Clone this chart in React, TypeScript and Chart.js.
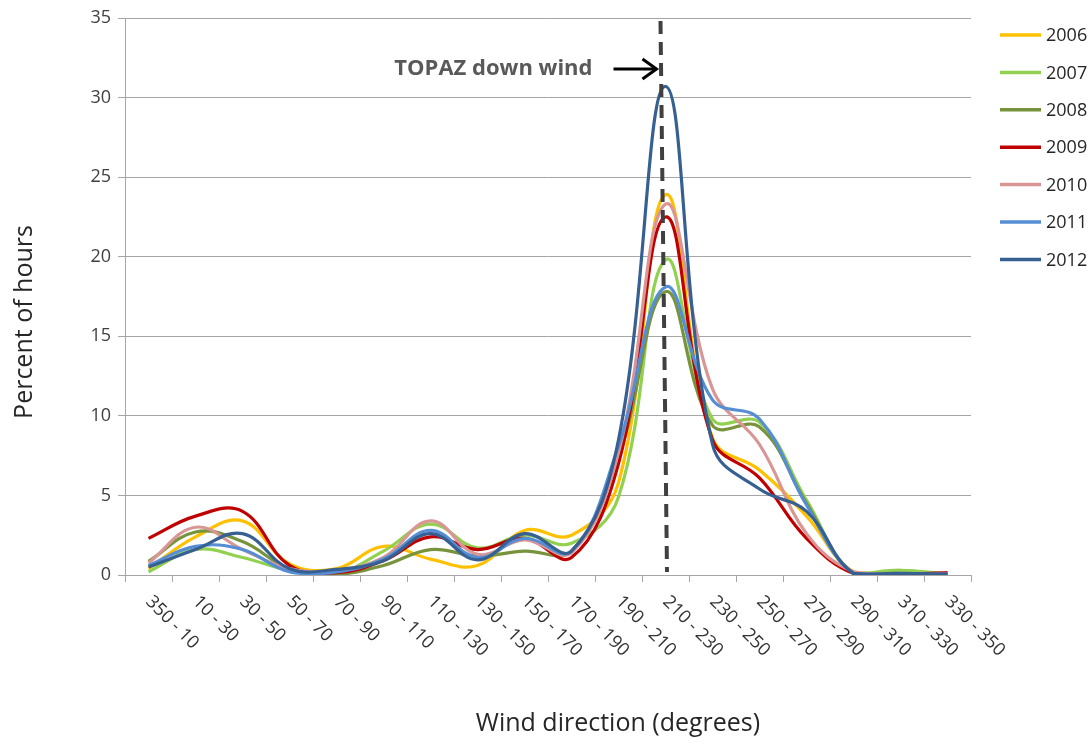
import React, { useEffect, useRef } from 'react';
import { Chart, registerables } from 'chart.js';

Chart.register(...registerables);

const categories = [
  '350 - 10', '10 - 30', '30 - 50', '50 - 70', '70 - 90', '90 - 110', '110 - 130', '130 - 150',
  '150 - 170', '170 - 190', '190 - 210', '210 - 230', '230 - 250', '250 - 270', '270 - 290',
  '290 - 310', '310 - 330', '330 - 350',
];

const years = ['2006', '2007', '2008', '2009', '2010', '2011', '2012'];
const colors = ['#FFC000', '#92D050', '#77933C', '#C00000', '#D99694', '#558ED5', '#376092'];

const s2006 = [0.4, 2.4, 3.4, 0.7, 0.4, 1.8, 1.0, 0.6, 2.8, 2.5, 5.8, 23.9, 8.6, 6.6, 3.7, 0.2, 0.1, 0.05];
const s2007 = [0.2, 1.6, 1.1, 0.3, 0.1, 1.5, 3.2, 1.7, 2.5, 2.0, 4.9, 19.8, 9.8, 9.6, 4.7, 0.1, 0.3, 0.05];
const s2008 = [0.85, 2.7, 2.1, 0.4, 0.05, 0.6, 1.6, 1.2, 1.5, 1.5, 7.4, 17.8, 9.4, 9.3, 4.5, 0.1, 0.1, 0.05];
const s2009 = [2.3, 3.7, 4.0, 0.6, 0.15, 0.9, 2.4, 1.6, 2.3, 1.1, 7.0, 22.5, 8.5, 6.1, 2.3, 0.1, 0.05, 0.15];
const s2010 = [0.75, 3.0, 1.6, 0.4, 0.3, 1.1, 3.4, 1.3, 2.2, 1.4, 7.7, 23.3, 11.7, 8.2, 2.6, 0.2, 0.05, 0.05];
const s2011 = [0.6, 1.8, 1.6, 0.2, 0.2, 1.0, 2.8, 1.1, 2.3, 1.5, 8.1, 18.1, 11.0, 9.8, 4.4, 0.1, 0.05, 0.05];
const s2012 = [0.5, 1.6, 2.6, 0.4, 0.35, 0.9, 2.6, 0.95, 2.6, 1.5, 8.5, 30.7, 8.2, 5.4, 4.0, 0.1, 0.1, 0.05];

const seriesValues = [s2006, s2007, s2008, s2009, s2010, s2011, s2012];

const yMin = 0;
const yMax = 35;
const yStep = 5;

const xTitle = 'Wind direction (degrees)';
const yTitle = 'Percent of hours';
const annotationText = 'TOPAZ down wind';
const annotationCategory = '210 - 230';

const FONT = '"Open Sans", "Noto Sans", sans-serif';
const GRID = '#a6a6a6';

const overlayPlugin = {
  id: 'overlay',
  afterDraw(chart: any) {
    const { ctx, chartArea } = chart;
    const xs = chart.scales.x;
    const ys = chart.scales.y;
    ctx.save();

    // rotated category labels
    ctx.font = `18px ${FONT}`;
    ctx.fillStyle = '#333333';
    ctx.textAlign = 'left';
    ctx.textBaseline = 'middle';
    categories.forEach((c, i) => {
      const px = xs.getPixelForTick(i);
      ctx.save();
      ctx.translate(px, chartArea.bottom + 24);
      ctx.rotate(Math.PI / 4);
      ctx.fillText(c, 0, 0);
      ctx.restore();
    });

    // axis titles
    ctx.font = `25px ${FONT}`;
    ctx.fillStyle = '#262626';
    ctx.textAlign = 'center';
    ctx.textBaseline = 'middle';
    ctx.fillText(xTitle, 618, 724);
    ctx.save();
    ctx.translate(25, 322);
    ctx.rotate(-Math.PI / 2);
    ctx.fillText(yTitle, 0, 0);
    ctx.restore();

    // legend
    ctx.font = `18px ${FONT}`;
    ctx.textAlign = 'left';
    chart.data.datasets.forEach((ds: any, k: number) => {
      const ly = 35 + k * 37.4;
      ctx.strokeStyle = ds.borderColor;
      ctx.lineWidth = 3.5;
      ctx.beginPath();
      ctx.moveTo(chartArea.right + 29, ly);
      ctx.lineTo(chartArea.right + 70, ly);
      ctx.stroke();
      ctx.fillStyle = '#262626';
      ctx.fillText(ds.label, chartArea.right + 75, ly + 1);
    });

    // dashed marker line
    const xi = xs.getPixelForValue(categories.indexOf(annotationCategory));
    ctx.setLineDash([13, 8]);
    ctx.lineWidth = 4;
    ctx.strokeStyle = '#404040';
    ctx.beginPath();
    ctx.moveTo(xi - 5, ys.getPixelForValue(yMax) + 3);
    ctx.lineTo(xi + 1.5, ys.getPixelForValue(yMin) - 3);
    ctx.stroke();
    ctx.setLineDash([]);

    // arrow
    const ay = 69;
    ctx.strokeStyle = '#000000';
    ctx.lineWidth = 3;
    ctx.beginPath();
    ctx.moveTo(xi - 52, ay);
    ctx.lineTo(xi - 9, ay);
    ctx.stroke();
    ctx.beginPath();
    ctx.moveTo(xi - 23, ay - 10);
    ctx.lineTo(xi - 9, ay);
    ctx.lineTo(xi - 23, ay + 10);
    ctx.stroke();

    // annotation text
    ctx.font = `bold 22px ${FONT}`;
    ctx.fillStyle = '#595959';
    ctx.textAlign = 'right';
    ctx.textBaseline = 'middle';
    ctx.fillText(annotationText, xi - 73, ay);

    ctx.restore();
  },
};

export default function App() {
  const canvasRef = useRef<HTMLCanvasElement | null>(null);

  useEffect(() => {
    if (!canvasRef.current) return;
    const chart = new Chart(canvasRef.current, {
      type: 'line',
      data: {
        labels: categories,
        datasets: years.map((yr, k) => ({
          label: yr,
          data: seriesValues[k],
          borderColor: colors[k],
          backgroundColor: colors[k],
          borderWidth: 3.2,
          pointRadius: 0,
          tension: 0.4,
          fill: false,
          order: years.length - k,
        })),
      },
      options: {
        responsive: false,
        animation: false,
        layout: { padding: { left: 0, top: 18, right: 120, bottom: 0 } },
        plugins: {
          legend: { display: false },
          tooltip: { enabled: false },
        },
        scales: {
          x: {
            type: 'category',
            offset: true,
            grid: {
              offset: true,
              drawOnChartArea: false,
              drawTicks: true,
              tickLength: 7,
              color: GRID,
            },
            border: { color: GRID, width: 1 },
            ticks: { display: false },
            afterFit(scale: any) {
              scale.height = 169;
              scale.paddingLeft = 0;
              scale.paddingRight = 0;
            },
          },
          y: {
            min: yMin,
            max: yMax,
            grid: { color: GRID, drawTicks: true, tickLength: 7 },
            border: { color: GRID, width: 1 },
            ticks: {
              stepSize: yStep,
              padding: 7,
              color: '#404040',
              font: { family: FONT, size: 18 },
            },
            afterFit(scale: any) {
              scale.width = 125;
              scale.paddingTop = 0;
              scale.paddingBottom = 0;
            },
          },
        },
      },
      plugins: [overlayPlugin],
    });
    return () => chart.destroy();
  }, []);

  return (
    <div style={{ position: 'fixed', left: 0, top: 0, width: 1091, height: 744, background: '#ffffff' }}>
      <canvas ref={canvasRef} width={1091} height={744} style={{ display: 'block', width: 1091, height: 744 }} />
    </div>
  );
}
